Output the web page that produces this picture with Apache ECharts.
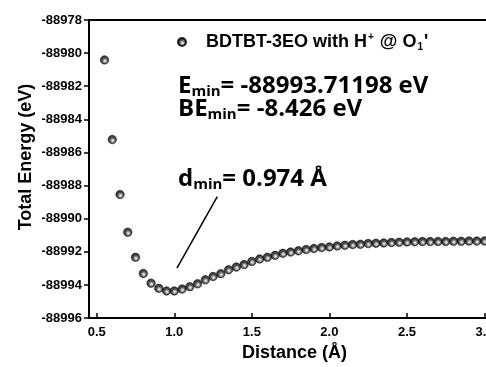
<!DOCTYPE html>
<html><head><meta charset="utf-8">
<script src="https://cdn.jsdelivr.net/npm/echarts@6/dist/echarts.min.js"></script>
<style>html,body{margin:0;padding:0;background:#fff;overflow:hidden}#c{width:500px;height:367px}</style>
</head><body><div id="c"></div>
<script>
const distances = [0.55,0.60,0.65,0.70,0.75,0.80,0.85,0.90,0.95,1.00,1.05,1.10,1.15,1.20,1.25,1.30,1.35,1.40,1.45,1.50,1.55,1.60,1.65,1.70,1.75,1.80,1.85,1.90,1.95,2.00,2.05,2.10,2.15,2.20,2.25,2.30,2.35,2.40,2.45,2.50,2.55,2.60,2.65,2.70,2.75,2.80,2.85,2.90,2.95,3.00,3.05];
const energies = [-88980.41,-88985.22,-88988.54,-88990.81,-88992.33,-88993.30,-88993.89,-88994.20,-88994.36,-88994.36,-88994.25,-88994.10,-88993.93,-88993.69,-88993.49,-88993.32,-88993.08,-88992.92,-88992.77,-88992.58,-88992.43,-88992.33,-88992.21,-88992.09,-88992.01,-88991.94,-88991.86,-88991.80,-88991.74,-88991.70,-88991.64,-88991.60,-88991.56,-88991.54,-88991.50,-88991.48,-88991.46,-88991.44,-88991.42,-88991.40,-88991.39,-88991.38,-88991.38,-88991.37,-88991.37,-88991.36,-88991.36,-88991.35,-88991.35,-88991.34,-88991.34];
const xTicks = [0.5,1.0,1.5,2.0,2.5,3.0];
const seriesName = "BDTBT-3EO with H+ @ O1'";
const pointerLine = [[1.017,-88992.98],[1.277,-88988.66]];

const chart = echarts.init(document.getElementById('c'));
const sphere = {type:'radial',x:0.55,y:0.6,r:0.55,colorStops:[{offset:0,color:'#ffffff'},{offset:0.22,color:'#b0b0b0'},{offset:0.55,color:'#222'},{offset:1,color:'#000'}]};
const annFont = '"Open Sans", sans-serif';
const arial = '"Liberation Sans", Arial, sans-serif';
const annRich = {
  b:{fontFamily:annFont,fontWeight:'bold',fontSize:24,fill:'#000'},
  s:{fontFamily:annFont,fontWeight:'bold',fontSize:15,fill:'#000',verticalAlign:'bottom',padding:[12,0,0,0]}
};
chart.setOption({
  animation:false,
  backgroundColor:'#fff',
  grid:{left:89,top:20,right:0,bottom:43,show:true,borderColor:'#000',borderWidth:2,containLabel:false},
  legend:{
    left:172,top:27,itemWidth:8,itemHeight:8,itemGap:0,
    data:[{name:seriesName,icon:'circle'}],
    formatter:()=>"{a|BDTBT-3EO with H}{sup|+}{a| @ O}{sub|1}{a|'}",
    textStyle:{padding:[0,0,0,15],rich:{
      a:{fontFamily:arial,fontWeight:'bold',fontSize:18,color:'#000'},
      sup:{fontFamily:arial,fontWeight:'bold',fontSize:10,color:'#000',verticalAlign:'top',padding:[0,1,9,1]},
      sub:{fontFamily:arial,fontWeight:'bold',fontSize:10,color:'#000',verticalAlign:'bottom',padding:[10,1,0,1]}
    }}
  },
  xAxis:{
    type:'value',min:0.45,max:3.1,
    name:'Distance (Å)',nameLocation:'middle',nameGap:24,
    nameTextStyle:{fontFamily:arial,fontWeight:'bold',fontSize:18,color:'#000'},
    axisLine:{lineStyle:{color:'#000',width:2}},
    axisTick:{inside:true,length:5,lineStyle:{color:'#000',width:1.5},customValues:xTicks},
    axisLabel:{customValues:xTicks,formatter:v=>v.toFixed(1),fontFamily:arial,fontWeight:'bold',fontSize:13,color:'#000',margin:8},
    splitLine:{show:false}
  },
  yAxis:{
    type:'value',min:-88996,max:-88978,interval:2,
    axisLine:{lineStyle:{color:'#000',width:2}},
    axisTick:{inside:false,length:5,lineStyle:{color:'#000',width:1.5}},
    axisLabel:{fontFamily:arial,fontWeight:'bold',fontSize:13,color:'#000',margin:7,formatter:v=>String(v)},
    splitLine:{show:false}
  },
  series:[{
    name:seriesName,type:'scatter',
    data:distances.map((d,i)=>[d,energies[i]]),
    symbol:'circle',symbolSize:8.5,
    itemStyle:{color:sphere,borderColor:'#000',borderWidth:0.6},
    markLine:{silent:true,symbol:'none',label:{show:false},lineStyle:{color:'#000',width:1.5,type:'solid'},
      data:[[{coord:pointerLine[0]},{coord:pointerLine[1]}]]}
  }],
  graphic:[
    {type:'text',x:26,y:157,rotation:Math.PI/2,style:{text:'Total Energy (eV)',font:'bold 18px "Liberation Sans", Arial, sans-serif',fill:'#000',align:'center',verticalAlign:'middle'}},
    {type:'text',left:178,top:74,style:{text:'{b|E}{s|min}{b|= -88993.71198 eV}',rich:annRich}},
    {type:'text',left:178,top:97,style:{text:'{b|BE}{s|min}{b|= -8.426 eV}',rich:annRich}},
    {type:'text',left:178,top:167,style:{text:'{b|d}{s|min}{b|= 0.974 Å}',rich:annRich}}
  ]
});
</script></body></html>
